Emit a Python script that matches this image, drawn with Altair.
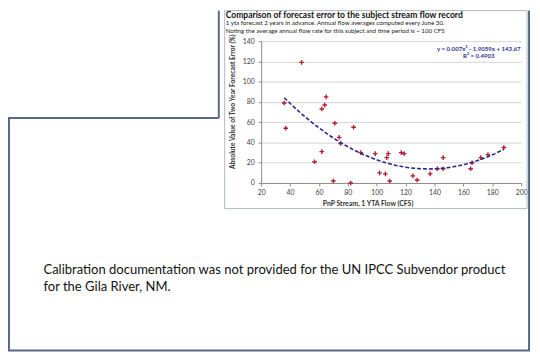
import altair as alt
import pandas as pd

# ---- data ----
flow = [36, 37, 48, 57, 62, 62, 64, 65, 70, 71, 74, 75, 82, 84, 89, 99, 102, 106,
        107, 108, 109, 117, 119, 125, 128, 137, 142, 146, 146, 165, 166, 172, 177, 188]
error = [79, 54, 119, 21, 31, 73, 77, 85, 2, 59, 45, 39, 0, 55, 30, 29, 10, 9,
         25, 29, 2, 30, 29, 7, 3, 9, 14, 14, 25, 14, 20, 25, 28, 35]
x_ticks = [20, 40, 60, 80, 100, 120, 140, 160, 180, 200]
y_ticks = [0, 20, 40, 60, 80, 100, 120, 140]

chart_title = "Comparison of forecast error to the subject stream flow record"
sub_lines = ["1 yta forecast 2 years in advance. Annual flow averages computed every June 30.",
             "Noting the average annual flow rate for this subject and time period is ~ 100 CFS"]
x_title = "PnP Stream, 1 YTA Flow (CFS)"
y_title = "Absolute Value of Two Year Forecast Error (%)"
eq_text = "y = 0.007x\u00b2 - 1.9059x + 143.67"
r2_text = "R\u00b2 = 0.4903"
note_lines = ["Calibration documentation was not provided for the UN IPCC Subvendor product",
              "for the Gila River, NM."]

FONT = "Lato"
FRAME = "#56698A"
df = pd.DataFrame({"flow": flow, "error": error})
one = pd.DataFrame({"d": [0]})

x_enc = alt.X("flow:Q",
              scale=alt.Scale(domain=[20, 200], nice=False, zero=False),
              axis=alt.Axis(values=x_ticks, title=x_title, grid=False,
                            labelOverlap=False, labelFlush=False,
                            labelFontSize=7, labelColor="#404040", labelFont=FONT,
                            tickSize=3, tickColor="#8C8C8C", domainColor="#8C8C8C",
                            labelPadding=3, titleFont=FONT, titleFontSize=7,
                            titleFontWeight="bold", titleColor="#333333",
                            titleX=108, titleY=21, titleBaseline="middle"))
y_enc = alt.Y("error:Q",
              scale=alt.Scale(domain=[0, 140], nice=False),
              axis=alt.Axis(values=y_ticks, title=y_title, grid=True, gridColor="#D4D4D4",
                            labelOverlap=False, labelFlush=False,
                            labelFontSize=7, labelColor="#404040", labelFont=FONT,
                            tickSize=3, tickColor="#8C8C8C", domainColor="#8C8C8C",
                            labelPadding=4, titleFont=FONT, titleFontSize=6.8,
                            titleFontWeight="bold", titleColor="#333333",
                            titleX=-29, titleY=61, titleAngle=-90, titleBaseline="middle",
                            titleAlign="center"))

points = alt.Chart(df).mark_point(
    shape="M-1,0L1,0M0,-1L0,1", filled=False, size=22, strokeWidth=1.4,
    color="#B5202E", opacity=1
).encode(x=x_enc, y=y_enc)

trend = alt.Chart(df).transform_regression(
    "flow", "error", method="poly", order=2
).mark_line(color="#2A2A8E", strokeDash=[4, 2], strokeWidth=1.6).encode(
    x=x_enc, y=y_enc)

def txt(s, x, y, size, weight="normal", color="#222222", align="left"):
    return alt.Chart(one).mark_text(
        text=s, align=align, baseline="middle", font=FONT, fontSize=size,
        fontWeight=weight, color=color
    ).encode(x=alt.value(x), y=alt.value(y))

def rule(x1, y1, x2, y2, color=FRAME, w=2):
    return alt.Chart(one).mark_rule(color=color, strokeWidth=w).encode(
        x=alt.value(x1), y=alt.value(y1), x2=alt.value(x2), y2=alt.value(y2))

# chart box (light border, transparent inside so axes show through)
box = alt.Chart(one).mark_rect(fill="white", fillOpacity=0, stroke="#AEB6C4",
                               strokeWidth=1).encode(
    x=alt.value(-37), x2=alt.value(270), y=alt.value(-31), y2=alt.value(170))

layers = [
    box,
    rule(-43, -31, -43, 78),
    rule(-257, 78, -43, 78),
    rule(-256, 78, -256, 314),
    rule(-257, 314, 273, 314),
    rule(272, -31, 272, 314),
    points,
    trend,
    txt(chart_title, -36, -26.5, 8.7, "bold", "#111111"),
    txt(sub_lines[0], -36, -18.5, 6.3),
    txt(sub_lines[1], -36, -10.5, 6.3),
    txt(eq_text, 221, 8, 6.2, "bold", "#2E2E90", "center"),
    txt(r2_text, 221, 15, 6.2, "bold", "#2E2E90", "center"),
    txt(note_lines[0], -221, 232, 13.2, "normal", "#111111"),
    txt(note_lines[1], -221, 250, 13.2, "normal", "#111111"),
]

chart = alt.layer(*layers).properties(
    width=264, height=144,
    autosize=alt.AutoSizeParams(type="none"),
    padding={"left": 257, "top": 31, "right": 11, "bottom": 173},
    background="white",
).configure_view(stroke=None)

chart.save("out.html", embed_options={"renderer": "svg", "actions": False})
